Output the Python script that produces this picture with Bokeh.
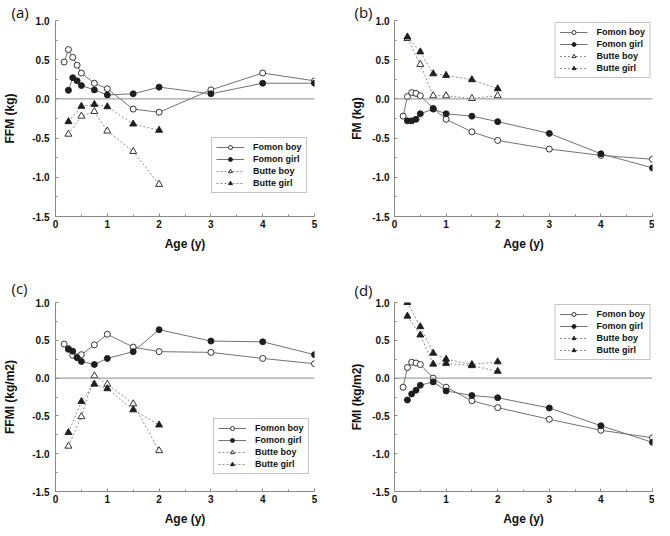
from bokeh.plotting import figure
from bokeh.layouts import gridplot
from bokeh.models import Span, Legend, LegendItem, FixedTicker, Range1d, NumeralTickFormatter
from bokeh.embed import file_html
from bokeh.resources import INLINE

# ---------------- data ----------------
ages_fomon_boy = [0.167, 0.25, 0.333, 0.417, 0.5, 0.75, 1, 1.5, 2, 3, 4, 5]
ages_fomon_girl = [0.25, 0.333, 0.417, 0.5, 0.75, 1, 1.5, 2, 3, 4, 5]
ages_butte = [0.25, 0.5, 0.75, 1, 1.5, 2]

series_names = ["Fomon boy", "Fomon girl", "Butte boy", "Butte girl"]

ffm_fomon_boy = [0.47, 0.63, 0.53, 0.43, 0.33, 0.20, 0.13, -0.13, -0.17, 0.115, 0.33, 0.23]
ffm_fomon_girl = [0.11, 0.27, 0.23, 0.17, 0.115, 0.05, 0.065, 0.15, 0.065, 0.20, 0.20]
ffm_butte_boy = [-0.45, -0.22, -0.16, -0.41, -0.67, -1.09]
ffm_butte_girl = [-0.29, -0.095, -0.07, -0.10, -0.32, -0.40]

fm_fomon_boy = [-0.22, 0.03, 0.08, 0.07, 0.04, -0.12, -0.26, -0.42, -0.53, -0.64, -0.72, -0.77]
fm_fomon_girl = [-0.28, -0.28, -0.26, -0.19, -0.13, -0.19, -0.22, -0.29, -0.44, -0.70, -0.88]
fm_butte_boy = [0.77, 0.44, 0.04, 0.04, 0.005, 0.04]
fm_butte_girl = [0.79, 0.60, 0.32, 0.30, 0.245, 0.13]

ffmi_fomon_boy = [0.45, 0.39, 0.30, 0.28, 0.31, 0.44, 0.58, 0.41, 0.35, 0.34, 0.26, 0.19]
ffmi_fomon_girl = [0.38, 0.355, 0.27, 0.22, 0.18, 0.26, 0.35, 0.64, 0.49, 0.48, 0.31]
ffmi_butte_boy = [-0.90, -0.51, 0.03, -0.08, -0.34, -0.96]
ffmi_butte_girl = [-0.72, -0.31, -0.08, -0.14, -0.42, -0.62]

fmi_fomon_boy = [-0.12, 0.14, 0.21, 0.20, 0.18, 0.0, -0.12, -0.30, -0.39, -0.545, -0.69, -0.79]
fmi_fomon_girl = [-0.29, -0.21, -0.16, -0.095, -0.05, -0.17, -0.23, -0.26, -0.395, -0.63, -0.85]
fmi_butte_boy = [0.82, 0.57, 0.185, 0.195, 0.165, 0.09]
fmi_butte_girl = [1.0, 0.68, 0.33, 0.25, 0.18, 0.215]

x_ticks = [0, 1, 2, 3, 4, 5]
x_minor = [0.5, 1.5, 2.5, 3.5, 4.5]
y_ticks = [-1.5, -1.0, -0.5, 0.0, 0.5, 1.0]
y_minor = [-1.25, -0.75, -0.25, 0.25, 0.75]

FONT = "'Liberation Sans', Arial, sans-serif"
AXIS_COLOR = "#8a8a8a"
LINE_COLOR = "#737373"
DASH_COLOR = "#8f8f8f"
MARK_COLOR = "#1e1e1e"


def make_panel(letter, ylabel, fb, fg, bb, bg, left, top_row, butte_boy_filled,
               legend_loc, title_standoff):
    w = 347 if left else 307
    h = 270 if top_row else 258
    bl = 44 if left else 41
    br = 33 if left else 2
    bt = 20 if top_row else 32
    bbm = 54 if top_row else 36
    p = figure(width=w, height=h, output_backend="svg", toolbar_location=None,
               x_range=Range1d(0, 5), y_range=Range1d(-1.5, 1.0),
               min_border_left=bl, min_border_right=br,
               min_border_top=bt, min_border_bottom=bbm)
    p.xgrid.visible = False
    p.ygrid.visible = False
    p.outline_line_color = None
    p.background_fill_color = "white"
    p.border_fill_color = "white"

    p.title.text = letter
    p.title.align = "left"
    p.title.offset = -bl + (0 if left else 1)
    p.title.standoff = title_standoff
    p.title.text_font = "Open Sans"
    p.title.text_font_size = "15px"
    p.title.text_font_style = "normal"
    p.title.text_color = "#111111"

    p.xaxis.ticker = FixedTicker(ticks=x_ticks, minor_ticks=x_minor)
    p.yaxis.ticker = FixedTicker(ticks=y_ticks, minor_ticks=y_minor)
    p.yaxis.formatter = NumeralTickFormatter(format="0.0")
    for ax in (p.xaxis[0], p.yaxis[0]):
        ax.axis_line_color = AXIS_COLOR
        ax.major_tick_line_color = AXIS_COLOR
        ax.minor_tick_line_color = AXIS_COLOR
        ax.major_tick_in = 3
        ax.major_tick_out = 0
        ax.minor_tick_in = 2
        ax.minor_tick_out = 0
        ax.major_label_text_font = FONT
        ax.major_label_text_font_style = "bold"
        ax.major_label_text_font_size = "10px"
        ax.major_label_text_color = "#111111"
        ax.axis_label_text_font = FONT
        ax.axis_label_text_font_style = "bold"
        ax.axis_label_text_font_size = "12px"
        ax.axis_label_text_color = "#111111"
    p.xaxis.axis_label = "Age (y)"
    p.yaxis.axis_label = ylabel
    p.xaxis.major_label_standoff = 3
    p.xaxis.axis_label_standoff = 6
    p.yaxis.major_label_standoff = 6 if left else 5
    p.yaxis.axis_label_standoff = 12 if left else 5

    p.add_layout(Span(location=0, dimension="width", line_color=AXIS_COLOR, line_width=1))

    r1 = p.line(ages_fomon_boy, fb, line_color=LINE_COLOR, line_width=1)
    m1 = p.scatter(ages_fomon_boy, fb, marker="circle", size=6, fill_color="white",
                   line_color=MARK_COLOR, line_width=0.9)
    r2 = p.line(ages_fomon_girl, fg, line_color=LINE_COLOR, line_width=1)
    m2 = p.scatter(ages_fomon_girl, fg, marker="circle", size=6, fill_color=MARK_COLOR,
                   line_color=MARK_COLOR, line_width=0.9)
    r3 = p.line(ages_butte, bb, line_color=DASH_COLOR, line_width=1, line_dash="2 2")
    m3 = p.scatter(ages_butte, bb, marker="triangle", size=7,
                   fill_color=MARK_COLOR if butte_boy_filled else "white",
                   line_color=MARK_COLOR, line_width=0.9)
    r4 = p.line(ages_butte, bg, line_color=DASH_COLOR, line_width=1, line_dash="2 2")
    m4 = p.scatter(ages_butte, bg, marker="triangle", size=7, fill_color=MARK_COLOR,
                   line_color=MARK_COLOR, line_width=0.9)

    items = [LegendItem(label=series_names[0], renderers=[r1, m1]),
             LegendItem(label=series_names[1], renderers=[r2, m2]),
             LegendItem(label=series_names[2], renderers=[r3, m3]),
             LegendItem(label=series_names[3], renderers=[r4, m4])]
    leg = Legend(items=items, location=legend_loc,
                 label_text_font=FONT, label_text_font_style="bold",
                 label_text_font_size="9px", label_text_color="#111111",
                 label_height=10, glyph_height=10, glyph_width=28,
                 label_standoff=9, spacing=2, padding=4, margin=2,
                 border_line_color=AXIS_COLOR, border_line_width=1,
                 background_fill_color="white", background_fill_alpha=1.0)
    p.add_layout(leg, "center")
    return p


pa = make_panel("(a)", "FFM (kg)", ffm_fomon_boy, ffm_fomon_girl, ffm_butte_boy,
                ffm_butte_girl, True, True, False, (156, 23), -3)
pb = make_panel("(b)", "FM (kg)", fm_fomon_boy, fm_fomon_girl, fm_butte_boy,
                fm_butte_girl, False, True, False, "top_right", -3)
pc = make_panel("(c)", "FFMI (kg/m2)", ffmi_fomon_boy, ffmi_fomon_girl, ffmi_butte_boy,
                ffmi_butte_girl, True, False, False, (158, 17), 9)
pd = make_panel("(d)", "FMI (kg/m2)", fmi_fomon_boy, fmi_fomon_girl, fmi_butte_boy,
                fmi_butte_girl, False, False, True, "top_right", 5)

grid = gridplot([[pa, pb], [pc, pd]], toolbar_location=None)

open("out.html", "w").write(file_html(grid, INLINE))
